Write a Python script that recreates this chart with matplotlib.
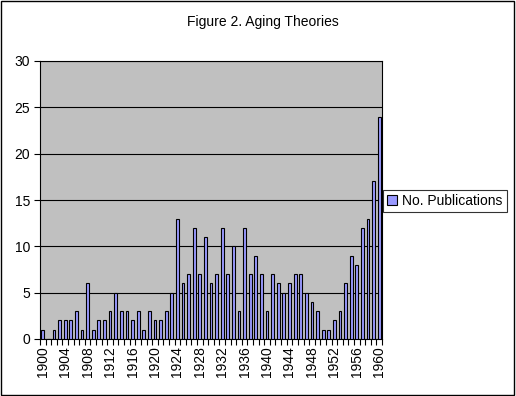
import matplotlib
matplotlib.use('Agg')
import matplotlib.pyplot as plt
import numpy as np

years = list(range(1900, 1961))
publications = [1, 0, 1, 2, 2, 2, 3, 1, 6, 1,
                2, 2, 3, 5, 3, 3, 2, 3, 1, 3,
                2, 2, 3, 5, 13, 6, 7, 12, 7, 11,
                6, 7, 12, 7, 10, 3, 12, 7, 9, 7,
                3, 7, 6, 5, 6, 7, 7, 5, 4, 3,
                1, 1, 2, 3, 6, 9, 8, 12, 13, 17,
                24]
series_name = 'No. Publications'
title = 'Figure 2. Aging Theories'

plt.rcParams['font.family'] = ['Liberation Sans', 'DejaVu Sans']

fig = plt.figure(figsize=(5.16, 3.96), dpi=100)
fig.patch.set_facecolor('white')
# outer chart border
fig.add_artist(plt.Rectangle((0.002, 0.003), 0.995, 0.994, transform=fig.transFigure,
                             fill=False, edgecolor='black', linewidth=1))

ax = fig.add_axes([40 / 516, 57 / 396, 342 / 516, 278 / 396])
ax.set_facecolor('#C0C0C0')

x = np.arange(len(years))
ax.bar(x, publications, width=0.5, color='#9999FF', edgecolor='black',
       linewidth=0.8, label=series_name, zorder=3)

ax.set_ylim(0, 30)
ax.set_xlim(-0.5, len(years) - 0.5)
ax.set_yticks(range(0, 31, 5))
ax.yaxis.grid(True, color='black', linewidth=0.8, zorder=0)
ax.set_axisbelow(True)

ax.set_xticks(x[::4])
ax.set_xticklabels([str(y) for y in years[::4]], rotation=90)
ax.set_xticks(np.arange(-0.5, len(years), 1), minor=True)
ax.tick_params(axis='x', which='major', length=0, pad=5, labelsize=10)
ax.tick_params(axis='x', which='minor', length=4, width=0.8, direction='out')
ax.tick_params(axis='y', length=4, width=0.8, labelsize=10, pad=3)

for s in ax.spines.values():
    s.set_linewidth(0.8)
    s.set_color('black')

fig.text(263 / 516, 1 - 22 / 396, title, ha='center', va='center', fontsize=10)

leg = fig.legend(loc='center left', bbox_to_anchor=(383 / 516, 1 - 201 / 396),
                 frameon=True, fancybox=False, edgecolor='black', fontsize=10,
                 handlelength=0.7, handleheight=0.7, handletextpad=0.4,
                 borderpad=0.3, borderaxespad=0)
leg.get_frame().set_linewidth(0.8)

fig.savefig('out.png', dpi=100)
